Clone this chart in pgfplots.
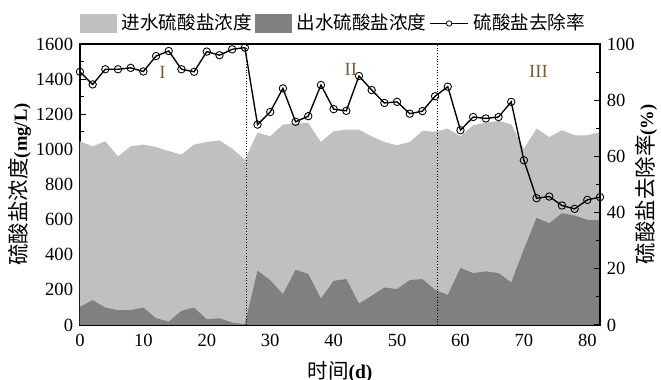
\documentclass[border=0pt]{standalone}
\usepackage{pgfplots}
\pgfplotsset{compat=1.18}
\usepackage{fontspec}
\setmainfont{Liberation Serif}
\newfontfamily\cjk{Noto Sans CJK SC}
\definecolor{inf}{HTML}{C0C0C0}
\definecolor{eff}{HTML}{808080}
\definecolor{phase}{HTML}{7A5A3A}
\begin{document}
\begin{tikzpicture}
\useasboundingbox (-40.9pt,-28.1pt) rectangle (297.2pt,166.2pt);
\pgfplotsset{
  every axis/.append style={font=\fontsize{9.5}{11}\selectfont},
  /pgf/number format/assume math mode=true,
}
\begin{axis}[
  at={(0pt,0pt)}, anchor=south west,
  scale only axis, width=266pt, height=143.7pt,
  xmin=0, xmax=82, ymin=0, ymax=1600,
  xtick={0,10,...,80}, minor x tick num=1,
  ytick={0,200,...,1600}, minor y tick num=1,
  xtick pos=left, ytick pos=left, tick align=inside,
  major tick length=3pt, minor tick length=2pt,
  axis line style={line width=0.7pt},
  tick style={line width=0.5pt, black},
  xticklabel style={yshift=-1pt},
  xlabel={{\cjk\fontsize{10.5}{12}\selectfont 时间}\textbf{(d)}},
  ylabel={{\cjk\fontsize{11}{12}\selectfont 硫酸盐浓度}\textbf{(mg/L)}},
  xlabel style={font=\fontsize{10}{12}\selectfont, at={(axis description cs:0.5,-0.167)}, anchor=center},
  ylabel style={font=\fontsize{9.5}{12}\selectfont, at={(axis description cs:-0.1154,0.5)}, anchor=center},
  scaled y ticks=false,
  yticklabel style={/pgf/number format/1000 sep={}},
]
\addplot[fill=inf, draw=none] coordinates {
(0,1046)(2,1017)(4,1046)(6,960)(8,1017)(10,1027)(12,1013)(14,990)(16,970)(18,1027)(20,1042)(22,1051)(24,1004)(26,940)(28,1095)(30,1074)(32,1141)(34,1147)(36,1150)(38,1042)(40,1103)(42,1112)(44,1112)(46,1074)(48,1042)(50,1023)(52,1042)(54,1105)(56,1100)(58,1118)(60,1074)(62,1137)(64,1152)(66,1162)(68,1143)(70,1004)(72,1118)(74,1070)(76,1109)(78,1080)(80,1080)(82,1099)
} \closedcycle;
\addplot[fill=eff, draw=none] coordinates {
(0,103)(2,141)(4,99)(6,84)(8,84)(10,99)(12,38)(14,19)(16,80)(18,99)(20,32)(22,38)(24,13)(26,5)(28,309)(30,255)(32,175)(34,314)(36,290)(38,150)(40,251)(42,261)(44,122)(46,166)(48,213)(50,204)(52,255)(54,261)(56,200)(58,171)(60,324)(62,295)(64,305)(66,295)(68,242)(70,432)(72,610)(74,579)(76,636)(78,623)(80,598)(82,598)
} \closedcycle;
\addplot[black, densely dotted, line width=0.4pt] coordinates {(26.2,0)(26.2,1600)};
\addplot[black, densely dotted, line width=0.4pt] coordinates {(56.3,0)(56.3,1600)};
\node[text=phase, font=\fontsize{9.5}{11}\selectfont] at (axis cs:13,1440) {I};
\node[text=phase, font=\fontsize{9.5}{11}\selectfont] at (axis cs:42.7,1455) {II};
\node[text=phase, font=\fontsize{9.5}{11}\selectfont] at (axis cs:72.3,1445) {III};
\end{axis}
\begin{axis}[
  at={(0pt,0pt)}, anchor=south west,
  scale only axis, width=266pt, height=143.7pt,
  xmin=0, xmax=82, ymin=0, ymax=100,
  axis x line=none, axis y line*=right,
  ytick={0,20,...,100}, minor y tick num=1,
  tick align=inside,
  major tick length=3pt, minor tick length=2pt,
  axis line style={line width=0.7pt},
  tick style={line width=0.5pt, black},
  ylabel={{\cjk\fontsize{11}{12}\selectfont 硫酸盐去除率}\textbf{(\%)}},
  ylabel style={font=\fontsize{9.5}{12}\selectfont, at={(axis description cs:1.0883,0.5)}, anchor=center},
  legend style={at={(0.4865,1.073)}, anchor=center, draw=none, fill=none,
    legend columns=3, inner sep=0pt, nodes={inner sep=0.5pt},
    font=\cjk\fontsize{9.5}{11}\selectfont,
    /tikz/every even column/.append style={column sep=1pt},
    /tikz/every odd column/.append style={column sep=2pt},
    /tikz/column 5/.append style={column sep=5.5pt},
    legend cell align=left},
]
\addlegendimage{legend image code/.code={\fill[inf] (0pt,-4.8pt) rectangle (18.5pt,4.8pt);}}
\addlegendentry{进水硫酸盐浓度}
\addlegendimage{legend image code/.code={\fill[eff] (0pt,-4.8pt) rectangle (18.5pt,4.8pt);}}
\addlegendentry{出水硫酸盐浓度}
\addplot[black, line width=0.7pt, mark=o, mark size=1.9pt,
  mark options={fill=white, solid, line width=0.45pt},
  legend image code/.code={\draw[black, line width=0.6pt] (0pt,0pt) -- (19.5pt,0pt); \draw[black, fill=white, line width=0.4pt] (9.75pt,0pt) circle (1.4pt);}] coordinates {
(0,90.1)(2,85.6)(4,91.0)(6,91.0)(8,91.5)(10,90.2)(12,95.7)(14,97.5)(16,91.0)(18,90.1)(20,97.3)(22,96.0)(24,98.1)(26,98.7)(28,71.3)(30,75.8)(32,84.2)(34,72.3)(36,74.3)(38,85.4)(40,76.8)(42,76.2)(44,88.6)(46,83.6)(48,79.0)(50,79.4)(52,75.2)(54,76.1)(56,81.4)(58,84.8)(60,69.3)(62,74.0)(64,73.5)(66,74.0)(68,79.4)(70,58.6)(72,45.1)(74,45.7)(76,42.5)(78,41.3)(80,44.5)(82,45.5)
};
\addlegendentry{硫酸盐去除率}
\end{axis}
\end{tikzpicture}
\end{document}
